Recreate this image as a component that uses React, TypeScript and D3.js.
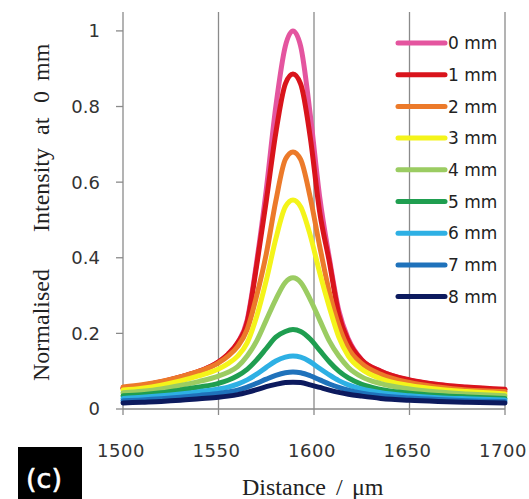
import React from "react";
import * as d3 from "d3";

const xs = [1500, 1510, 1520, 1530, 1540, 1550, 1555, 1560, 1565, 1570, 1575, 1580, 1585, 1589, 1593, 1598, 1603, 1608, 1613, 1618, 1625, 1635, 1650, 1665, 1680, 1700];

const seriesNames = ["0 mm", "1 mm", "2 mm", "3 mm", "4 mm", "5 mm", "6 mm", "7 mm", "8 mm"];
const seriesColors = ["#e4559f", "#d9141c", "#ec7a2a", "#f4f41a", "#9bcc62", "#1f9e50", "#2eb0e4", "#1f72bb", "#0c1a5e"];

const s0 = [0.054, 0.061, 0.071, 0.084, 0.1, 0.124, 0.145, 0.175, 0.235, 0.39, 0.58, 0.8, 0.96, 1.0, 0.96, 0.78, 0.56, 0.4, 0.26, 0.185, 0.13, 0.1, 0.076, 0.064, 0.057, 0.051];
const s1 = [0.055, 0.062, 0.072, 0.085, 0.1, 0.125, 0.145, 0.175, 0.23, 0.38, 0.55, 0.73, 0.86, 0.886, 0.86, 0.72, 0.52, 0.39, 0.25, 0.18, 0.13, 0.1, 0.077, 0.065, 0.058, 0.052];
const s2 = [0.058, 0.064, 0.073, 0.085, 0.1, 0.122, 0.14, 0.165, 0.21, 0.3, 0.41, 0.55, 0.66, 0.68, 0.66, 0.56, 0.43, 0.31, 0.22, 0.16, 0.12, 0.092, 0.07, 0.058, 0.05, 0.046];
const s3 = [0.05, 0.055, 0.063, 0.074, 0.088, 0.106, 0.12, 0.14, 0.175, 0.245, 0.34, 0.45, 0.535, 0.553, 0.535, 0.46, 0.36, 0.27, 0.19, 0.14, 0.105, 0.08, 0.062, 0.052, 0.046, 0.04];
const s4 = [0.043, 0.047, 0.053, 0.062, 0.073, 0.087, 0.097, 0.112, 0.14, 0.18, 0.235, 0.29, 0.335, 0.347, 0.335, 0.29, 0.235, 0.18, 0.14, 0.11, 0.085, 0.067, 0.053, 0.045, 0.04, 0.035];
const s5 = [0.035, 0.038, 0.043, 0.05, 0.058, 0.068, 0.076, 0.088, 0.105, 0.13, 0.16, 0.19, 0.205, 0.21, 0.205, 0.185, 0.155, 0.125, 0.1, 0.082, 0.065, 0.052, 0.042, 0.036, 0.032, 0.028];
const s6 = [0.028, 0.031, 0.035, 0.04, 0.046, 0.053, 0.058, 0.066, 0.077, 0.092, 0.11, 0.127, 0.137, 0.14, 0.137, 0.125, 0.107, 0.09, 0.075, 0.064, 0.053, 0.043, 0.035, 0.03, 0.027, 0.024];
const s7 = [0.022, 0.024, 0.027, 0.031, 0.036, 0.041, 0.045, 0.05, 0.058, 0.068, 0.079, 0.089, 0.096, 0.098, 0.096, 0.088, 0.077, 0.066, 0.057, 0.05, 0.042, 0.035, 0.029, 0.025, 0.022, 0.02];
const s8 = [0.016, 0.018, 0.02, 0.023, 0.027, 0.031, 0.034, 0.038, 0.044, 0.051, 0.059, 0.065, 0.07, 0.071, 0.07, 0.064, 0.057, 0.05, 0.044, 0.039, 0.034, 0.028, 0.023, 0.02, 0.018, 0.016];

const seriesValues = [s0, s1, s2, s3, s4, s5, s6, s7, s8];

const xTicks = [1500, 1550, 1600, 1650, 1700];
const yTicks = [0, 0.2, 0.4, 0.6, 0.8, 1];

export default function App() {
  const W = 529;
  const H = 499;
  const x = d3.scaleLinear().domain([1500, 1700]).range([123, 505]);
  const y = d3.scaleLinear().domain([0, 1.05]).range([409, 12]);
  const line = d3
    .line<[number, number]>()
    .x((d) => x(d[0]))
    .y((d) => y(d[1]))
    .curve(d3.curveMonotoneX);

  const grid = "#8a8a8a";
  const tickFont = "'DejaVu Sans', Verdana, sans-serif";
  const serif = "'Liberation Serif', 'Times New Roman', serif";
  const legendTop = 43;
  const legendStep = 31.7;

  return (
    <svg
      width={W}
      height={H}
      style={{ position: "absolute", left: 0, top: 0, background: "#fff" }}
    >
      <rect x={0} y={0} width={W} height={H} fill="#fff" />
      {xTicks.slice(1).map((t) => (
        <line key={"g" + t} x1={x(t)} x2={x(t)} y1={12} y2={415} stroke={grid} strokeWidth={1.3} />
      ))}
      <line x1={x(1500)} x2={x(1500)} y1={12} y2={415} stroke={grid} strokeWidth={1.3} />
      {yTicks.map((t) => (
        <g key={"y" + t}>
          <line x1={x(1500) - 7} x2={x(1500)} y1={y(t)} y2={y(t)} stroke={grid} strokeWidth={1.3} />
          <text
            x={100}
            y={y(t)}
            dy="0.36em"
            textAnchor="end"
            fontFamily={tickFont}
            fontSize={18}
            fill="#333"
          >
            {String(t)}
          </text>
        </g>
      ))}
      <line x1={x(1500)} x2={x(1700)} y1={y(0)} y2={y(0)} stroke={grid} strokeWidth={1.3} />
      {xTicks.map((t) => (
        <text
          key={"x" + t}
          x={x(t) - 2}
          y={457}
          textAnchor="middle"
          fontFamily={tickFont}
          fontSize={18}
          letterSpacing={0.5}
          fill="#333"
        >
          {String(t)}
        </text>
      ))}
      {seriesValues.map((vals, i) => (
        <path
          key={"s" + i}
          d={line(xs.map((xv, j) => [xv, vals[j]] as [number, number])) || ""}
          fill="none"
          stroke={seriesColors[i]}
          strokeWidth={5}
          strokeLinejoin="round"
          strokeLinecap="round"
        />
      ))}
      {seriesNames.map((name, i) => {
        const ly = legendTop + i * legendStep;
        return (
          <g key={"l" + i}>
            <line x1={398} x2={445} y1={ly} y2={ly} stroke={seriesColors[i]} strokeWidth={5} strokeLinecap="round" />
            <text x={448} y={ly} dy="0.36em" fontFamily={tickFont} fontSize={17} fill="#222">
              {name}
            </text>
          </g>
        );
      })}
      <text
        transform="translate(49,0) rotate(-90)"
        fontFamily={serif}
        fontSize={24}
        fill="#222"
      >
        <tspan x={-381}>Normalised</tspan>
        <tspan x={-232}>Intensity</tspan>
        <tspan x={-135}>at</tspan>
        <tspan x={-103}>0</tspan>
        <tspan x={-81}>mm</tspan>
      </text>
      <text fontFamily={serif} fontSize={24} fill="#222" y={495}>
        <tspan x={242}>Distance</tspan>
        <tspan x={336}>/</tspan>
        <tspan x={352}>μm</tspan>
      </text>
      <rect x={18} y={447} width={64} height={52} fill="#000" />
      <text
        x={44}
        y={488}
        textAnchor="middle"
        fontFamily="'DejaVu Sans', sans-serif"
        fontSize={27}
        stroke="#fff"
        strokeWidth={0.6}
        fill="#fff"
      >
        (c)
      </text>
    </svg>
  );
}
